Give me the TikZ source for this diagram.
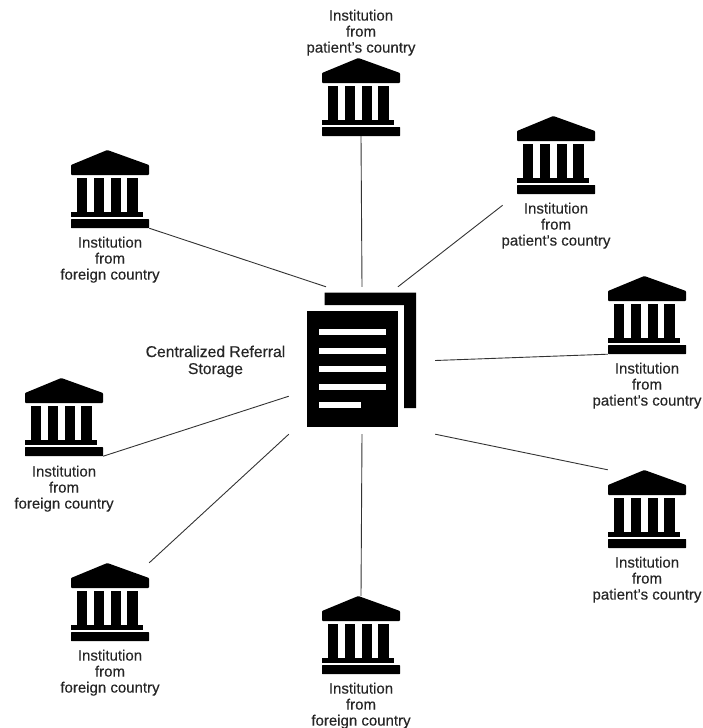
\documentclass[tikz,border=0pt]{standalone}
\usepackage{fontspec}
\setmainfont[FakeBold=0.35]{Liberation Sans}
\tikzset{
  banksite/.style={inner sep=0pt,minimum width=78pt,minimum height=78pt},
  instlabel/.style={align=center,font=\fontsize{15}{16}\selectfont,text=black!85},
  link/.style={draw=black!80,line width=0.9pt},
  bankicon/.pic={
    \fill[rounded corners=0.8pt] (-2.7,-39)--(39,-24)--(39,-14)--(-39,-14)--(-39,-24)--cycle;
    \fill (-33.3,-11)rectangle(-22.7,23);
    \fill (-16.3,-11)rectangle(-5.7,23);
    \fill (0.7,-11)rectangle(11.3,23);
    \fill (16.7,-11)rectangle(28.3,23);
    \fill (-39,23)rectangle(33,28);
    \fill[rounded corners=0.5pt] (-39,30)rectangle(39,39);
  }
}
\newcommand{\bank}[3]{\node[banksite] (#1) at (#2,#3) {}; \pic at (#1) {bankicon};}
\begin{document}
\begin{tikzpicture}[x=1pt,y=-1pt]
\useasboundingbox (0,0) rectangle (702,728);
% institutions
\bank{bankT}{361}{97}
\bank{bankRU}{556}{155}
\bank{bankR}{647}{315}
\bank{bankRL}{647}{509}
\bank{bankB}{361}{635}
\bank{bankBL}{110}{602}
\bank{bankL}{64}{417}
\bank{bankUL}{110}{189}
% labels
\node[instlabel] (labelT) at (361,32.7) {Institution\\from\\patient's country};
\node[instlabel] (labelRU) at (556,225.7) {Institution\\from\\patient's country};
\node[instlabel] (labelR) at (647,385.7) {Institution\\from\\patient's country};
\node[instlabel] (labelRL) at (647,579.7) {Institution\\from\\patient's country};
\node[instlabel] (labelB) at (361,705.7) {Institution\\from\\foreign country};
\node[instlabel] (labelBL) at (110,672.7) {Institution\\from\\foreign country};
\node[instlabel] (labelL) at (64,488.7) {Institution\\from\\foreign country};
\node[instlabel] (labelUL) at (110,259.7) {Institution\\from\\foreign country};
% storage
\node[inner sep=0pt,minimum width=146pt,minimum height=147pt] (store) at (362,360.5) {};
\fill (324.7,292.7)--(416,292.7)--(416,408)--(404,408)--(404,305)--(324.7,305)--cycle;
\fill (306.7,311)rectangle(397.7,426.7);
\fill[white] (318.7,329.3)rectangle(385.7,335.3);
\fill[white] (318.7,347.7)rectangle(385.7,353.7);
\fill[white] (318.7,366)rectangle(385.7,372);
\fill[white] (318.7,384)rectangle(385.7,390);
\fill[white] (318.7,402.3)rectangle(361.3,408.3);
\node[instlabel,font=\fontsize{15.7}{17}\selectfont] (storelabel) at (215.5,361.5) {Centralized Referral\\Storage};
% links
\draw[link] (bankT.south)--(store.north);
\draw[link,shorten <=18pt] (bankRU.south west)--(store.64);
\draw[link] (bankR.south west)--(store.east);
\draw[link] (bankRL.north west)--(store.south east);
\draw[link] (bankB.north)--(store.south);
\draw[link] (bankBL.north east)--(store.south west);
\draw[link] (bankL.south east)--(store.206);
\draw[link] (bankUL.south east)--(store.116);
\end{tikzpicture}
\end{document}
